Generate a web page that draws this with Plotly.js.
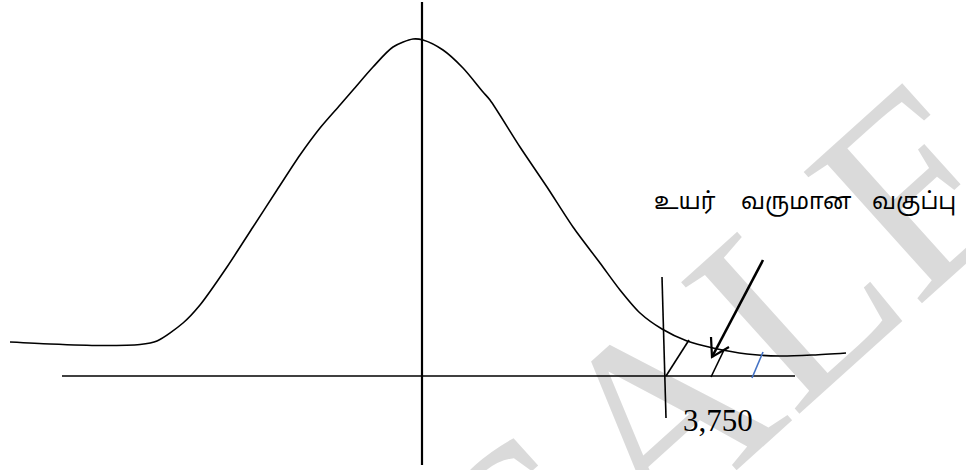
<!DOCTYPE html>
<html>
<head>
<meta charset="utf-8">
<script src="https://cdn.plot.ly/plotly-3.0.1.min.js"></script>
<style>
  html, body { margin: 0; padding: 0; background: #ffffff; }
  #chart { width: 966px; height: 470px; }
</style>
</head>
<body>
<div id="chart"></div>
<script>
// Income distribution sketch: a bell-shaped frequency curve with the
// high-income class cut off at 3,750 on the income axis.
// Diagram units: x runs left to right, y is height above the income axis.

// frequency curve
const curveX = [10, 50, 100, 140, 157, 183, 200, 227, 253, 277, 300, 320, 340, 353, 373, 393, 413, 423, 443, 463, 483, 490, 520, 547, 573, 600, 620, 640, 662, 687, 713, 747, 780, 813, 846];
const curveY = [34, 32, 30.5, 31.5, 35, 53, 71, 109, 149, 186, 221, 248, 271, 286, 309, 329, 337, 336, 326, 308, 284, 276, 229, 189, 149, 113, 86, 63, 47, 35, 28, 22, 20, 21, 23];

// income axis (horizontal) and frequency axis (vertical)
const incomeAxisX = [62, 795];
const incomeAxisY = [0, 0];
const freqAxisX = [422, 422];
const freqAxisY = [374, -89];

// cut-off line at income 3,750
const cutoffX = [662, 666];
const cutoffY = [99, -42];
const cutoffLabel = "3,750";

// hatching of the upper tail
const hatch1X = [666, 689];
const hatch1Y = [0, 36];
const hatch2X = [711, 724];
const hatch2Y = [-1, 26];
const hatch3X = [752, 763];
const hatch3Y = [-2, 24];

// pointer arrow to the high-income class
const arrowX = [763, 712];
const arrowY = [116, 19];
const arrowHeadX = [711, 712, 729];
const arrowHeadY = [39, 19, 29];

// labels
const classWords = ["உயர்", "வருமான", "வகுப்பு"];
const classWordX = [685, 796, 914];
const classWordY = [173, 173, 173];
const stampText = "SALE";

const black = "#000000";
const seg = (x, y, w, c) => ({
  x: x, y: y, type: "scatter", mode: "lines",
  line: { color: c || black, width: w },
  hoverinfo: "skip", showlegend: false
});

const traces = [
  seg(incomeAxisX, incomeAxisY, 1.6),
  seg(freqAxisX, freqAxisY, 2.2),
  {
    x: curveX, y: curveY, type: "scatter", mode: "lines",
    line: { color: black, width: 1.6, shape: "spline", smoothing: 0.8 },
    hoverinfo: "skip", showlegend: false
  },
  seg(cutoffX, cutoffY, 1.6),
  seg(hatch1X, hatch1Y, 1.6),
  seg(hatch2X, hatch2Y, 1.6),
  seg(hatch3X, hatch3Y, 1.6, "#4472C4"),
  seg(arrowX, arrowY, 2.6),
  seg(arrowHeadX, arrowHeadY, 2.2)
];

const annotations = classWords.map((w, i) => ({
  x: classWordX[i], y: classWordY[i], xref: "x", yref: "y",
  text: w, showarrow: false, xanchor: "center", yanchor: "middle",
  font: { family: "Latha, 'Noto Sans Tamil', 'Lohit Tamil', 'Noto Sans', sans-serif", size: 23, color: black }
}));

annotations.push({
  x: 718, y: -44, xref: "x", yref: "y",
  text: cutoffLabel, showarrow: false, xanchor: "center", yanchor: "middle",
  font: { family: "'Liberation Serif', 'Times New Roman', serif", size: 31, color: black }
});

// translucent stamp across the right half
annotations.push({
  x: 726, y: 20, xref: "x", yref: "y",
  text: stampText, showarrow: false, xanchor: "center", yanchor: "middle",
  textangle: -42,
  font: { family: "'Liberation Serif', 'Times New Roman', serif", size: 270, color: "rgba(0,0,0,0.145)" }
});

const layout = {
  width: 966, height: 470,
  margin: { l: 0, r: 0, t: 0, b: 0 },
  paper_bgcolor: "#ffffff", plot_bgcolor: "#ffffff",
  xaxis: { range: [0, 966], visible: false, fixedrange: true },
  yaxis: { range: [-94, 376], visible: false, fixedrange: true },
  annotations: annotations,
  showlegend: false
};

Plotly.newPlot("chart", traces, layout, { displayModeBar: false, staticPlot: true });
</script>
</body>
</html>
